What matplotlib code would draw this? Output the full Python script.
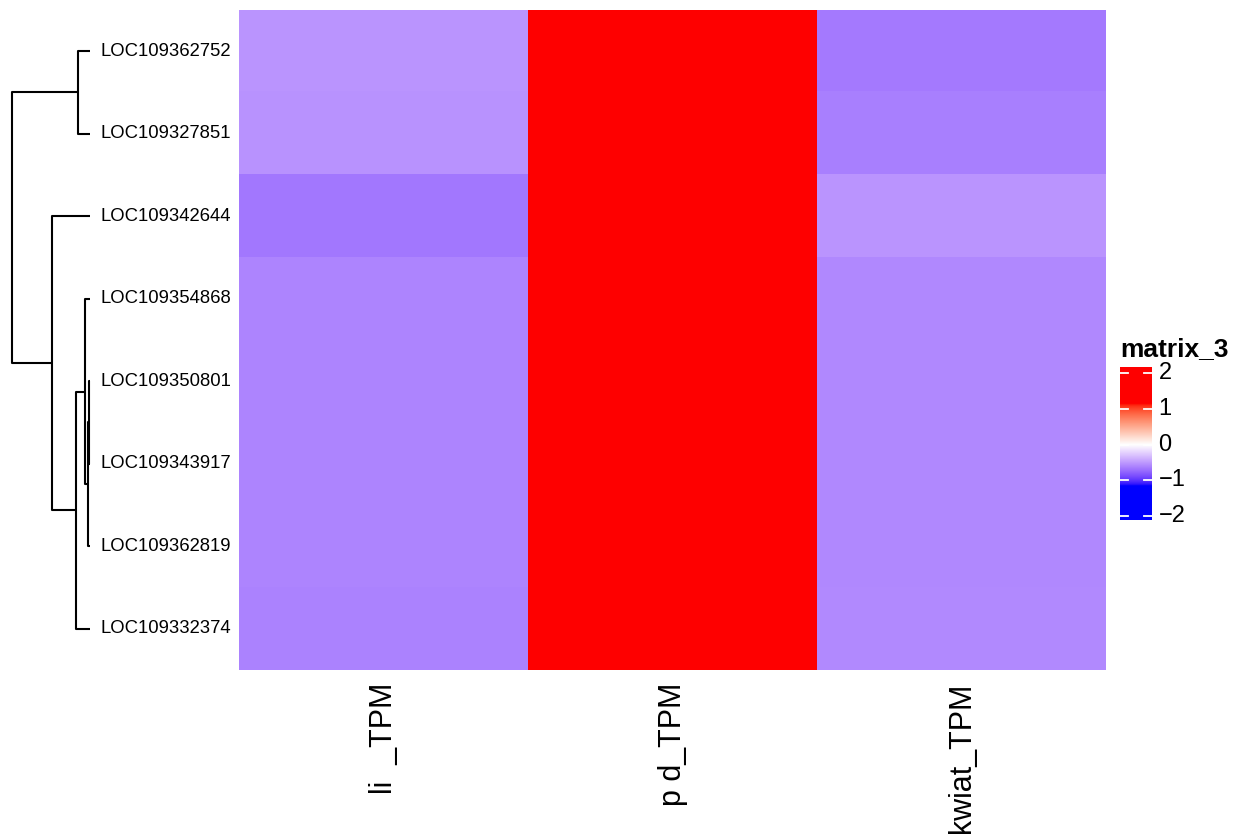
import matplotlib
matplotlib.use("Agg")
import matplotlib.pyplot as plt
import numpy as np
from matplotlib.colors import ListedColormap, Normalize

plt.rcParams['font.family'] = ['Liberation Sans', 'DejaVu Sans']

W, H = 1237, 838

genes = ['LOC109362752', 'LOC109327851', 'LOC109342644', 'LOC109354868',
         'LOC109350801', 'LOC109343917', 'LOC109362819', 'LOC109332374']
samples = ['li  _TPM', 'p d_TPM', 'kwiat_TPM']

# row-scaled expression (z-scores), one list per sample column
z_li = [-0.53, -0.54, -0.67, -0.61, -0.61, -0.61, -0.61, -0.62]
z_pd = [1.15, 1.15, 1.15, 1.15, 1.15, 1.15, 1.15, 1.15]
z_kwiat = [-0.66, -0.64, -0.53, -0.59, -0.59, -0.59, -0.59, -0.58]

# row clustering: (left, right, height); leaves are row indices 0..7,
# internal nodes are numbered 8.. in the order they are created
merges = [
    (4, 5, 1.5),
    (8, 6, 2.5),
    (3, 9, 5.0),
    (10, 7, 14.0),
    (0, 1, 12.0),
    (2, 11, 38.0),
    (12, 13, 78.0),
]

legend_ticks = [-2, -1, 0, 1, 2]
col_max = 1.155


# --- colour ramp blue/white/red interpolated in CIE Lab ---
def srgb_to_lab(rgb):
    rgb = np.asarray(rgb, float)
    lin = np.where(rgb <= 0.04045, rgb / 12.92, ((rgb + 0.055) / 1.055) ** 2.4)
    m = np.array([[0.4124, 0.3576, 0.1805],
                  [0.2126, 0.7152, 0.0722],
                  [0.0193, 0.1192, 0.9505]])
    xyz = m @ lin
    xyz = xyz / np.array([0.95047, 1.0, 1.08883])
    f = np.where(xyz > 0.008856, np.cbrt(xyz), 7.787 * xyz + 16 / 116)
    return np.array([116 * f[1] - 16, 500 * (f[0] - f[1]), 200 * (f[1] - f[2])])


def lab_to_srgb(lab):
    L, a, b = lab
    fy = (L + 16) / 116
    fx = fy + a / 500
    fz = fy - b / 200
    f = np.array([fx, fy, fz])
    xyz = np.where(f ** 3 > 0.008856, f ** 3, (f - 16 / 116) / 7.787)
    xyz = xyz * np.array([0.95047, 1.0, 1.08883])
    m = np.array([[3.2406, -1.5372, -0.4986],
                  [-0.9689, 1.8758, 0.0415],
                  [0.0557, -0.2040, 1.0570]])
    lin = m @ xyz
    lin = np.clip(lin, 0, 1)
    rgb = np.where(lin <= 0.0031308, 12.92 * lin, 1.055 * lin ** (1 / 2.4) - 0.055)
    return np.clip(rgb, 0, 1)


lab_blue = srgb_to_lab([0, 0, 1])
lab_white = srgb_to_lab([1, 1, 1])
lab_red = srgb_to_lab([1, 0, 0])
colors = []
for t in np.linspace(0, 1, 256):
    if t < 0.5:
        s = t / 0.5
        lab = lab_blue * (1 - s) + lab_white * s
    else:
        s = (t - 0.5) / 0.5
        lab = lab_white * (1 - s) + lab_red * s
    colors.append(lab_to_srgb(lab))
cmap = ListedColormap(colors)
norm = Normalize(vmin=-col_max, vmax=col_max, clip=True)

mat = np.column_stack([z_li, z_pd, z_kwiat])

fig = plt.figure(figsize=(W / 100, H / 100), dpi=100)


def px_axes(x0, y0, x1, y1):
    return fig.add_axes([x0 / W, 1 - y1 / H, (x1 - x0) / W, (y1 - y0) / H])


# heatmap body
hm_left, hm_top, hm_right, hm_bottom = 239, 10, 1106, 670
ax = px_axes(hm_left, hm_top, hm_right, hm_bottom)
ax.imshow(mat, cmap=cmap, norm=norm, aspect='auto', interpolation='nearest')
ax.set_axis_off()

# column names under the body
for j, name in enumerate(samples):
    ax.text(j, 7.5 + 13 / 82.5, name, rotation=90, ha='center', va='top',
            fontsize=22, transform=ax.transData, clip_on=False)

# row names to the right of the dendrogram
row_h = (hm_bottom - hm_top) / len(genes)
for i, g in enumerate(genes):
    y = hm_top + row_h * (i + 0.5)
    fig.text(100 / W, 1 - y / H, g, ha='left', va='center', fontsize=13.3)

# dendrogram
dax = px_axes(12, hm_top, 90, hm_bottom)
dax.set_xlim(78, 0)
dax.set_ylim(len(genes) - 0.5, -0.5)
dax.set_axis_off()
node_y = {i: float(i) for i in range(len(genes))}
node_h = {i: 0.0 for i in range(len(genes))}
for k, (a, b, h) in enumerate(merges):
    nid = len(genes) + k
    ya, yb = node_y[a], node_y[b]
    dax.plot([node_h[a], h, h, node_h[b]], [ya, ya, yb, yb],
             color='black', lw=1.5, solid_capstyle='butt', clip_on=False)
    node_y[nid] = (ya + yb) / 2
    node_h[nid] = h

# colour legend
bar_l, bar_t, bar_r, bar_b = 1120, 367, 1152, 520
lax = px_axes(bar_l, bar_t, bar_r, bar_b)
lo, hi = -2.11, 2.17
grad = np.linspace(hi, lo, 300).reshape(-1, 1)
lax.imshow(grad, cmap=cmap, norm=norm, aspect='auto',
           extent=[0, 1, lo, hi], interpolation='bilinear')
lax.set_xlim(0, 1)
lax.set_ylim(lo, hi)
lax.set_axis_off()
for t in legend_ticks:
    lax.plot([0, 0.25], [t, t], color='white', lw=1.3)
    lax.plot([0.75, 1], [t, t], color='white', lw=1.3)
    lab = str(t).replace('-', '\u2212')
    lax.text(1.2, t, lab, ha='left', va='center', fontsize=17,
             transform=lax.transData, clip_on=False)
fig.text(bar_l / W, 1 - 349 / H, 'matrix_3', ha='left', va='center',
         fontsize=19, fontweight='bold')

fig.savefig('out.png', dpi=100)
